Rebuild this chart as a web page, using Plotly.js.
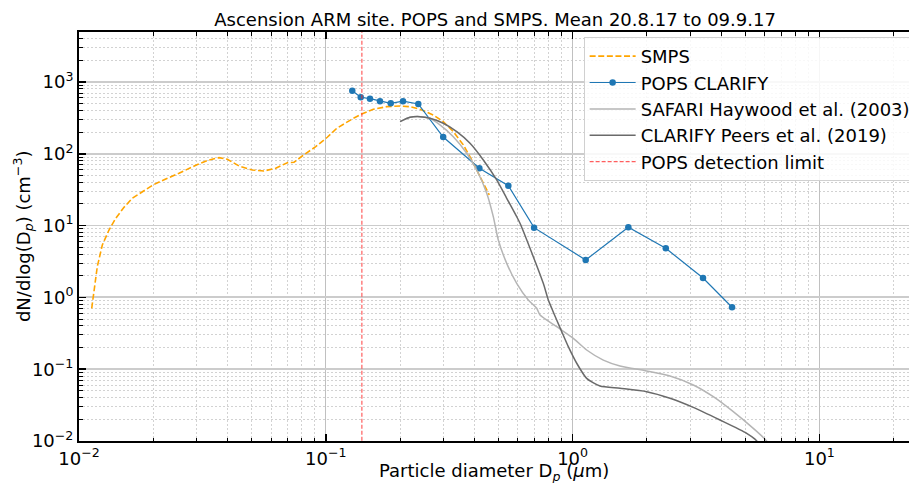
<!DOCTYPE html>
<html>
<head>
<meta charset="utf-8">
<script src="https://cdn.plot.ly/plotly-3.0.1.min.js"></script>
<style>html,body{margin:0;padding:0;background:#fff;}#chart{width:909px;height:483px;}</style>
</head>
<body>
<div id="chart"></div>
<script>
// ---- data ----
const titleText = "Ascension ARM site. POPS and SMPS. Mean 20.8.17 to 09.9.17";
const xTitleText = 'Particle diameter D<sub><i>p</i></sub> (<i>\u03bc</i>m)';
const yTitleText = 'dN/dlog(D<sub><i>p</i></sub>) (cm<sup>\u22123</sup>)';

const smpsD = [0.01126,0.0115,0.01186,0.01243,0.01323,0.01408,0.01522,0.01644,0.01864,0.01994,0.02246,0.02542,0.02987,0.03363,0.03692,0.03991,0.0445,0.05038,0.05618,0.06266,0.06982,0.07432,0.08033,0.09102,0.1014,0.1107,0.1293,0.1398,0.1558,0.1765,0.1999,0.2194,0.2408,0.2727,0.2992,0.3286,0.3607,0.3901,0.4215,0.4597];
const smpsN = [0.705,1.27,2.68,5.37,8.68,12.6,18.0,24.0,32.0,36.8,44.6,53.5,69.8,82.0,88.3,83.8,67.6,59.5,57.6,62.8,75.2,76.2,93.2,125.6,169.8,226,312,358,417,453,463,453,417,347,280,203,133,82.0,48.0,26.7];

const popsD = [0.128,0.1385,0.151,0.1658,0.1833,0.2055,0.237,0.299,0.419,0.549,0.698,1.13,1.682,2.385,3.376,4.426];
const popsN = [757,612,585,539,505,540,494,171,62.8,36.0,9.35,3.32,9.47,4.83,1.86,0.728];

const safariD = [0.2,0.2194,0.2408,0.2643,0.2901,0.3286,0.3724,0.4088,0.4488,0.4771,0.5,0.5408,0.5935,0.6615,0.7153,0.738,0.862,1.0066,1.14,1.3318,1.556,1.996,2.481,3.083,3.716,4.477,5.397,6.021,6.4];
const safariN = [280,322,329,312,252,173,101.6,59.5,28.2,13.3,6.3,2.98,1.57,0.92,0.705,0.569,0.391,0.269,0.185,0.134,0.111,0.0944,0.0803,0.0603,0.0414,0.0256,0.015,0.0106,0.0082];

const clarifyD = [0.2,0.2194,0.2408,0.2643,0.2992,0.3393,0.384,0.4347,0.4925,0.5408,0.5935,0.612,0.693,0.7607,0.7973,0.8228,0.862,0.9035,0.9607,1.039,1.14,1.291,1.556,1.996,2.481,3.083,3.955,5.075,5.48,6.0];
const clarifyN = [280,322,329,312,266,203,140,82,43.2,24.0,13.3,10.8,3.69,1.57,0.92,0.705,0.484,0.333,0.206,0.121,0.0746,0.0583,0.0542,0.0486,0.0394,0.0294,0.0196,0.0128,0.0106,0.0075];

const detectionLimit = 0.14;

const seriesNames = ["SMPS","POPS CLARIFY","SAFARI Haywood et al. (2003)","CLARIFY Peers et al. (2019)","POPS detection limit"];

const xTickVals = [0.01,0.1,1,10];
const xTickText = ["10<sup>\u22122</sup>","10<sup>\u22121</sup>","10<sup>0</sup>","10<sup>1</sup>"];
const yTickVals = [0.01,0.1,1,10,100,1000];
const yTickText = ["10<sup>\u22122</sup>","10<sup>\u22121</sup>","10<sup>0</sup>","10<sup>1</sup>","10<sup>2</sup>","10<sup>3</sup>"];

const xRange = [-2, 1.363];
const yRange = [-2, 3.696];

// minor tick positions (2..9 per decade)
function minorVals(lo, hi){
  const out=[];
  for(let e=lo;e<=hi;e++){ for(let m=2;m<=9;m++){ out.push(m*Math.pow(10,e)); } }
  return out;
}

const traces = [
  {x: smpsD, y: smpsN, name: seriesNames[0], mode:'lines',
   line:{color:'#ffa500', width:1.6, dash:'6px,2.6px'}},
  {x: popsD, y: popsN, name: seriesNames[1], mode:'lines+markers',
   line:{color:'#1f77b4', width:1.2}, marker:{color:'#1f77b4', size:6.5}},
  {x: safariD, y: safariN, name: seriesNames[2], mode:'lines',
   line:{color:'#b5b5b5', width:1.5, shape:'spline', smoothing:0.6}},
  {x: clarifyD, y: clarifyN, name: seriesNames[3], mode:'lines',
   line:{color:'#6a6a6a', width:1.5, shape:'spline', smoothing:0.6}},
  {x: [detectionLimit, detectionLimit], y: [Math.pow(10,yRange[0]-1), Math.pow(10,yRange[1]+1)], name: seriesNames[4], mode:'lines',
   line:{color:'rgba(255,40,40,0.75)', width:1.2, dash:'4px,2px'}}
];

const titleFont = {family:'DejaVu Sans', size:18, color:'#000'};

const layout = {
  width:909, height:483,
  margin:{l:79, r:0, t:32, b:42, autoexpand:false},
  paper_bgcolor:'#fff', plot_bgcolor:'#fff',
  font:{family:'DejaVu Sans', size:18, color:'#000'},
  showlegend:true,
  title:{text:titleText, font:titleFont,
         x:0.5446, xref:'container', xanchor:'center', y:0.972, yref:'container', yanchor:'top'},
  xaxis:{type:'log', range:xRange, tickmode:'array', tickvals:xTickVals, ticktext:xTickText,
         ticks:'inside', ticklen:7, tickwidth:1.5, tickcolor:'#000',
         showline:true, linecolor:'#000', linewidth:2, mirror:'ticks',
         showgrid:true, gridcolor:'#c0c0c0', gridwidth:1.2,
         tickfont:{family:'DejaVu Sans', size:18, color:'#000'},
         zeroline:false, automargin:false,
         minor:{tickvals:minorVals(-2,1), ticks:'inside', ticklen:3.5, tickwidth:1, tickcolor:'#000',
                showgrid:true, gridcolor:'#d2d2d2', gridwidth:1, griddash:'2px,2px'}},
  yaxis:{type:'log', range:yRange, tickmode:'array', tickvals:yTickVals, ticktext:yTickText,
         ticks:'inside', ticklen:7, tickwidth:1.5, tickcolor:'#000',
         showline:true, linecolor:'#000', linewidth:2, mirror:false,
         showgrid:true, gridcolor:'#cccccc', gridwidth:1.8,
         tickfont:{family:'DejaVu Sans', size:18, color:'#000'},
         zeroline:false, automargin:false,
         minor:{tickvals:minorVals(-2,3), ticks:'inside', ticklen:3.5, tickwidth:1, tickcolor:'#000',
                showgrid:true, gridcolor:'#d2d2d2', gridwidth:1, griddash:'2px,2px'}},
  annotations:[
    {text:xTitleText, xref:'paper', yref:'paper', x:0.5, y:-0.042, xanchor:'center', yanchor:'top',
     showarrow:false, font:titleFont},
    {text:yTitleText, xref:'paper', yref:'paper', x:-0.068, y:0.5, xanchor:'center', yanchor:'middle',
     textangle:-90, showarrow:false, font:titleFont}
  ],
  legend:{x:0.608, y:0.988, xanchor:'left', yanchor:'top',
          bgcolor:'rgba(255,255,255,0.85)', bordercolor:'#d0d0d0', borderwidth:1,
          font:{family:'DejaVu Sans', size:18, color:'#000'}, itemwidth:46, tracegroupgap:0}
};

Plotly.newPlot('chart', traces, layout, {staticPlot:true, displayModeBar:false});
</script>
</body>
</html>
